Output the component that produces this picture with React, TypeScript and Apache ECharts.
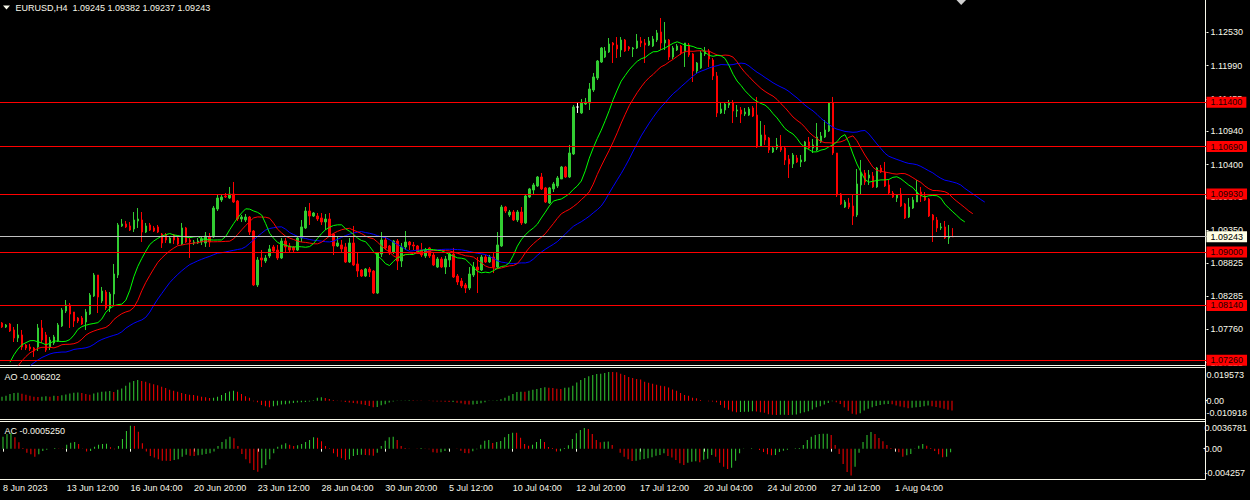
import React, { useEffect, useRef } from "react";
import * as echarts from "echarts";

// ---- candle data (EURUSD H4), oldest first ----
const opens = [
  1.07859, 1.07795, 1.07843, 1.07747, 1.07619, 1.07667, 1.07506, 1.07474, 1.07458, 1.07474,
  1.07779, 1.07667, 1.07474, 1.07538, 1.0757, 1.07811, 1.08051, 1.08148, 1.08035, 1.07939,
  1.07939, 1.07875, 1.08003, 1.08292, 1.08629, 1.08212, 1.08356, 1.081, 1.08324, 1.08629,
  1.09416, 1.09448, 1.09416, 1.09367, 1.09496, 1.09512, 1.09319, 1.09432, 1.09384, 1.094,
  1.09287, 1.09271, 1.09143, 1.09271, 1.09223, 1.09127, 1.09384, 1.09191, 1.09143, 1.09143,
  1.09159, 1.09143, 1.09239, 1.09239, 1.09688, 1.09833, 1.09897, 1.09865, 1.09929, 1.09817,
  1.09528, 1.09512, 1.0956, 1.09335, 1.08469, 1.08902, 1.08854, 1.08934, 1.09079, 1.0903,
  1.08902, 1.09175, 1.09095, 1.09079, 1.0903, 1.09223, 1.09384, 1.09656, 1.09576, 1.09576,
  1.09544, 1.0948, 1.09528, 1.09287, 1.09095, 1.09111, 1.09079, 1.08838, 1.09143, 1.08806,
  1.08709, 1.08613, 1.08725, 1.08693, 1.0834, 1.08966, 1.09191, 1.09095, 1.08998, 1.09175,
  1.08854, 1.09079, 1.09159, 1.09111, 1.09095, 1.0903, 1.08934, 1.09063, 1.0895, 1.08757,
  1.08886, 1.08757, 1.0887, 1.08966, 1.08613, 1.08533, 1.08469, 1.0842, 1.08629, 1.08757,
  1.08709, 1.08918, 1.08838, 1.08918, 1.08757, 1.09095, 1.0972, 1.09592, 1.0964, 1.09512,
  1.0964, 1.09464, 1.09881, 1.09993, 1.10058, 1.10202, 1.10026, 1.09785, 1.1001, 1.10058,
  1.1017, 1.10362, 1.10202, 1.10571, 1.11325, 1.11229, 1.11373, 1.11389, 1.11598, 1.1179,
  1.12047, 1.12127, 1.12208, 1.12352, 1.1232, 1.1224, 1.124, 1.12288, 1.12256, 1.12272,
  1.12384, 1.12352, 1.1232, 1.12304, 1.124, 1.12529, 1.12352, 1.124, 1.12127, 1.1224,
  1.12304, 1.12208, 1.1232, 1.12176, 1.11903, 1.11951, 1.12176, 1.12224, 1.12079, 1.11823,
  1.11229, 1.11277, 1.11357, 1.11389, 1.11261, 1.11277, 1.11213, 1.11196, 1.11309, 1.11196,
  1.10699, 1.10876, 1.10828, 1.10603, 1.10667, 1.10683, 1.10667, 1.10491, 1.10411, 1.10507,
  1.10443, 1.10459, 1.10764, 1.10667, 1.10635, 1.10764, 1.10844, 1.1094, 1.11389, 1.10587,
  1.09929, 1.0972, 1.09785, 1.09737, 1.09592, 1.10074, 1.10266, 1.10186, 1.10218, 1.10042,
  1.10346, 1.10282, 1.10074, 1.09945, 1.09865, 1.09929, 1.09769, 1.0956, 1.09704, 1.09801,
  1.09961, 1.09897, 1.09849, 1.09592, 1.09512, 1.09384, 1.094, 1.09223, 1.09245,
];
const highs = [
  1.07875, 1.07843, 1.07859, 1.07795, 1.07843, 1.07747, 1.07522, 1.07522, 1.07474, 1.07843,
  1.07907, 1.07715, 1.07635, 1.07667, 1.07859, 1.081, 1.08228, 1.0818, 1.08035, 1.07955,
  1.07971, 1.08083, 1.0834, 1.08661, 1.08629, 1.08437, 1.08388, 1.08356, 1.08806, 1.09464,
  1.09528, 1.09496, 1.0948, 1.0964, 1.09704, 1.0964, 1.09464, 1.09464, 1.09416, 1.09432,
  1.09303, 1.09303, 1.09239, 1.09287, 1.09255, 1.09464, 1.094, 1.09223, 1.09191, 1.09223,
  1.09239, 1.09319, 1.09303, 1.09737, 1.09913, 1.09913, 1.09945, 1.10042, 1.10122, 1.09833,
  1.09592, 1.09608, 1.09576, 1.09351, 1.08918, 1.0903, 1.0895, 1.09111, 1.09111, 1.09111,
  1.09223, 1.09223, 1.09143, 1.09095, 1.09239, 1.09512, 1.0972, 1.09785, 1.0964, 1.09624,
  1.09624, 1.09608, 1.09624, 1.09303, 1.09239, 1.09191, 1.09143, 1.09223, 1.09416, 1.08982,
  1.08725, 1.08741, 1.08757, 1.08709, 1.08998, 1.09319, 1.09239, 1.09111, 1.09191, 1.09207,
  1.09143, 1.09335, 1.09175, 1.09159, 1.09111, 1.09143, 1.09063, 1.09079, 1.08982, 1.08918,
  1.08918, 1.08934, 1.08998, 1.09063, 1.08645, 1.08581, 1.08501, 1.08757, 1.08838, 1.08918,
  1.0895, 1.0895, 1.0895, 1.08982, 1.09319, 1.09753, 1.09737, 1.09672, 1.09672, 1.09672,
  1.0972, 1.09929, 1.10026, 1.10106, 1.10218, 1.10266, 1.10042, 1.10042, 1.10122, 1.10218,
  1.10379, 1.10379, 1.10716, 1.11357, 1.11405, 1.11453, 1.1147, 1.1171, 1.11871, 1.12079,
  1.12288, 1.12288, 1.12432, 1.12368, 1.12448, 1.12448, 1.12416, 1.12304, 1.12288, 1.12496,
  1.12448, 1.12416, 1.12448, 1.12464, 1.12561, 1.12753, 1.12689, 1.12416, 1.12304, 1.12336,
  1.1232, 1.12352, 1.12352, 1.12192, 1.12047, 1.12224, 1.12288, 1.12256, 1.12111, 1.11887,
  1.11389, 1.11405, 1.11437, 1.11437, 1.11357, 1.11325, 1.11309, 1.11325, 1.11341, 1.11486,
  1.111, 1.11036, 1.10844, 1.10699, 1.10828, 1.10876, 1.10683, 1.10555, 1.10587, 1.10555,
  1.10555, 1.1078, 1.10844, 1.10812, 1.11068, 1.10924, 1.11116, 1.11405, 1.11486, 1.10587,
  1.09945, 1.09833, 1.09865, 1.09913, 1.1033, 1.10475, 1.10314, 1.10314, 1.10282, 1.10362,
  1.10395, 1.10443, 1.10154, 1.09977, 1.09929, 1.10026, 1.09785, 1.09865, 1.09881, 1.10154,
  1.10042, 1.09961, 1.09865, 1.09608, 1.0956, 1.09464, 1.09496, 1.09432, 1.09382,
];
const lows = [
  1.07779, 1.07779, 1.07715, 1.07554, 1.07554, 1.07426, 1.07426, 1.0741, 1.07314, 1.0741,
  1.07538, 1.07394, 1.07426, 1.07506, 1.07554, 1.07795, 1.08019, 1.07779, 1.07795, 1.07859,
  1.07827, 1.07747, 1.07987, 1.08276, 1.08019, 1.0818, 1.08067, 1.08035, 1.08148, 1.08581,
  1.094, 1.09384, 1.09335, 1.09319, 1.09384, 1.09159, 1.09303, 1.09335, 1.09319, 1.09303,
  1.09063, 1.09143, 1.09143, 1.09127, 1.09111, 1.09111, 1.09143, 1.08902, 1.09111, 1.09127,
  1.09111, 1.09079, 1.09079, 1.09223, 1.09656, 1.09801, 1.09865, 1.09849, 1.09785, 1.09496,
  1.0948, 1.0948, 1.09271, 1.08453, 1.08437, 1.08757, 1.08822, 1.08902, 1.08982, 1.0887,
  1.08886, 1.08998, 1.08998, 1.08998, 1.09014, 1.09159, 1.09367, 1.09432, 1.0956, 1.09496,
  1.09432, 1.09351, 1.09239, 1.0895, 1.09079, 1.08982, 1.08822, 1.08822, 1.08774, 1.08597,
  1.08597, 1.08597, 1.08597, 1.08324, 1.08324, 1.08918, 1.0903, 1.0895, 1.08966, 1.08709,
  1.08757, 1.0903, 1.0903, 1.0903, 1.08966, 1.08918, 1.08902, 1.08902, 1.08774, 1.08741,
  1.08741, 1.08645, 1.08757, 1.08581, 1.08469, 1.0842, 1.0834, 1.08388, 1.08597, 1.0834,
  1.08693, 1.08822, 1.08822, 1.08661, 1.08741, 1.09079, 1.09624, 1.0956, 1.09496, 1.0948,
  1.09432, 1.09448, 1.09865, 1.09913, 1.10042, 1.09993, 1.09785, 1.09769, 1.09961, 1.10026,
  1.1017, 1.10186, 1.10186, 1.10555, 1.11229, 1.11213, 1.11357, 1.11277, 1.11566, 1.11758,
  1.12031, 1.12111, 1.12192, 1.12031, 1.12111, 1.12127, 1.12208, 1.12224, 1.12127, 1.12256,
  1.12288, 1.12031, 1.12304, 1.12288, 1.12368, 1.1224, 1.1224, 1.12079, 1.12095, 1.12224,
  1.1216, 1.11967, 1.12127, 1.11726, 1.11871, 1.11935, 1.12143, 1.11967, 1.11758, 1.11164,
  1.11213, 1.11213, 1.11309, 1.11068, 1.11164, 1.11068, 1.1118, 1.1118, 1.11164, 1.10667,
  1.10683, 1.10716, 1.10587, 1.10587, 1.10635, 1.10603, 1.10395, 1.10186, 1.10346, 1.10427,
  1.10362, 1.10443, 1.10651, 1.10587, 1.10619, 1.10748, 1.10828, 1.10924, 1.10555, 1.09881,
  1.09753, 1.09704, 1.09688, 1.09432, 1.0956, 1.09913, 1.10074, 1.10074, 1.10026, 1.10026,
  1.10266, 1.10042, 1.09929, 1.09865, 1.09801, 1.0972, 1.09528, 1.09544, 1.09688, 1.09801,
  1.09801, 1.09817, 1.0956, 1.09159, 1.09319, 1.09351, 1.09207, 1.09127, 1.09237,
];
const closes = [
  1.07795, 1.07827, 1.07731, 1.07619, 1.07667, 1.07474, 1.07458, 1.07442, 1.0741, 1.07779,
  1.07586, 1.07426, 1.07586, 1.07635, 1.07827, 1.08067, 1.08148, 1.08003, 1.07891, 1.07891,
  1.07843, 1.08035, 1.08308, 1.08629, 1.08276, 1.08372, 1.081, 1.08324, 1.08645, 1.09432,
  1.09448, 1.094, 1.09351, 1.09512, 1.09528, 1.09319, 1.09416, 1.09351, 1.09335, 1.09319,
  1.09143, 1.09191, 1.09223, 1.09191, 1.09127, 1.09384, 1.09159, 1.09159, 1.09159, 1.09175,
  1.09207, 1.09255, 1.09159, 1.09704, 1.09865, 1.09881, 1.09881, 1.09929, 1.09801, 1.09528,
  1.0956, 1.0956, 1.09319, 1.08469, 1.0887, 1.0887, 1.08902, 1.09047, 1.09014, 1.08902,
  1.09175, 1.09079, 1.0903, 1.0903, 1.09223, 1.094, 1.09656, 1.09576, 1.09624, 1.09528,
  1.0948, 1.09528, 1.09255, 1.09095, 1.09143, 1.09047, 1.08838, 1.09143, 1.0879, 1.08693,
  1.08613, 1.08725, 1.08677, 1.0834, 1.08982, 1.09191, 1.09063, 1.08982, 1.09175, 1.08854,
  1.09079, 1.09159, 1.09111, 1.09095, 1.08982, 1.0895, 1.0903, 1.08934, 1.0879, 1.08886,
  1.08757, 1.08886, 1.08966, 1.08597, 1.08517, 1.08453, 1.0842, 1.08645, 1.08757, 1.08709,
  1.08918, 1.08838, 1.08918, 1.08757, 1.09111, 1.0972, 1.09656, 1.0964, 1.09512, 1.0964,
  1.09464, 1.09897, 1.1001, 1.10074, 1.10202, 1.1001, 1.09801, 1.10026, 1.1009, 1.10186,
  1.10362, 1.10202, 1.10587, 1.11325, 1.11325, 1.11389, 1.11405, 1.11614, 1.11807, 1.12063,
  1.12272, 1.12224, 1.12336, 1.1232, 1.12256, 1.124, 1.12224, 1.12256, 1.12272, 1.12384,
  1.12352, 1.1232, 1.12384, 1.12416, 1.12513, 1.12352, 1.124, 1.12127, 1.12272, 1.12304,
  1.12192, 1.12352, 1.1216, 1.11903, 1.12031, 1.12192, 1.12224, 1.12095, 1.11823, 1.11229,
  1.11293, 1.11373, 1.11389, 1.11261, 1.11277, 1.11213, 1.11245, 1.11293, 1.1118, 1.10683,
  1.10876, 1.10796, 1.10635, 1.10667, 1.10716, 1.10635, 1.10475, 1.10411, 1.10555, 1.10443,
  1.10475, 1.10764, 1.10667, 1.10716, 1.10844, 1.1086, 1.10956, 1.11389, 1.10587, 1.09913,
  1.09769, 1.09801, 1.0972, 1.09576, 1.1009, 1.10266, 1.10122, 1.10234, 1.10042, 1.10346,
  1.10282, 1.10058, 1.09945, 1.09881, 1.09913, 1.09737, 1.09544, 1.0972, 1.09833, 1.09961,
  1.09897, 1.09833, 1.09576, 1.09512, 1.09384, 1.094, 1.09223, 1.09239, 1.09243,
];

// ---- Awesome Oscillator (read from the sub-window) ----
const aoValues = [
  0.00248, 0.00311, 0.00414, 0.00476, 0.00497, 0.00435, 0.00373, 0.00311, 0.00248, 0.00228,
  0.00248, 0.00269, 0.00248, 0.00311, 0.0029, 0.00331, 0.00393, 0.00455, 0.00497, 0.00518,
  0.00476, 0.00414, 0.00373, 0.00455, 0.00518, 0.00559, 0.0058, 0.006, 0.00538, 0.00683,
  0.00766, 0.00932, 0.01139, 0.01242, 0.01304, 0.01242, 0.0118, 0.01097, 0.01035, 0.00973,
  0.00869, 0.00787, 0.00683, 0.00621, 0.00559, 0.00476, 0.00414, 0.00373, 0.00352, 0.00311,
  0.00248, 0.00207, 0.00166, 0.00186, 0.00248, 0.00352, 0.00476, 0.0058, 0.00621, 0.00559,
  0.00414, 0.00269, 0.00186, -0.00041, -0.00104, -0.00269, -0.00352, -0.00414, -0.00352, -0.00311,
  -0.00248, -0.00228, -0.00186, -0.00145, -0.00124, -0.00104, -0.00083, -0.00062, 0.00021, 0.00186,
  0.00207, 0.00166, 0.00104, 0.00041, -0.00021, -0.00041, -0.00083, -0.00124, -0.00145, -0.00186,
  -0.00228, -0.00269, -0.00331, -0.00414, -0.00393, -0.0029, -0.00228, -0.00124, -0.00062, -0.00021,
  0.0001, 0.00015, 0.0002, 0.00018, 0.00012, 0.00005, -0.00005, -0.0003, -0.00035, -0.0005,
  -0.0006, -0.0007, -0.0009, -0.0008, -0.0013, -0.0017, -0.0022, -0.0025, -0.0024, -0.0021,
  -0.00166, -0.00104, -0.0002, 0.00002, 0.0002, 0.00083, 0.00186, 0.00311, 0.00414, 0.00538,
  0.00559, 0.00555, 0.00621, 0.00683, 0.00725, 0.00787, 0.00849, 0.00807, 0.0079, 0.00745,
  0.00735, 0.00807, 0.00828, 0.00932, 0.01139, 0.01304, 0.01428, 0.01532, 0.01615, 0.01677,
  0.01697, 0.01739, 0.01801, 0.01795, 0.0178, 0.01697, 0.01615, 0.0149, 0.01428, 0.01366,
  0.01325, 0.0118, 0.01118, 0.01056, 0.00994, 0.00932, 0.00911, 0.00828, 0.00704, 0.00621,
  0.00476, 0.00352, 0.00311, 0.00186, 0.00145, 0.00041, -0.0001, -0.00041, -0.0005, -0.00104,
  -0.00269, -0.00455, -0.0058, -0.00683, -0.00725, -0.00715, -0.00705, -0.007, -0.00662, -0.00683,
  -0.00725, -0.00766, -0.00849, -0.0089, -0.00911, -0.0089, -0.0088, -0.00911, -0.0089, -0.0087,
  -0.00787, -0.00725, -0.00662, -0.00559, -0.00414, -0.00352, -0.00248, -0.00145, -0.00041, -0.00104,
  -0.00207, -0.00414, -0.00642, -0.00828, -0.00869, -0.00787, -0.00621, -0.00518, -0.00414, -0.00331,
  -0.00269, -0.00228, -0.00207, -0.00228, -0.00311, -0.00373, -0.00414, -0.00476, -0.00455, -0.00414,
  -0.00393, -0.00352, -0.00311, -0.00352, -0.00393, -0.00455, -0.00518, -0.0058, -0.006202,
];

// ---- Accelerator Oscillator (read from the sub-window) ----
const acValues = [
  0.0017, 0.00208, 0.00217, 0.0016, 0.0009, 0.00009, -0.00057, -0.0008, -0.00113, -0.0008,
  -0.00033, -0.00014, -0.00002, 0.00009, 0.00002, 0.00001, 0.00057, 0.00085, 0.00094, 0.00066,
  0.00002, -0.00042, -0.00033, 0.00028, 0.00057, 0.00066, 0.00071, 0.00019, -0.00009, 0.00038,
  0.00137, 0.0025, 0.00326, 0.00321, 0.00241, 0.00076, -0.00042, -0.00104, -0.00127, -0.00151,
  -0.0017, -0.00172, -0.00175, -0.0016, -0.00151, -0.00113, -0.00085, -0.00099, -0.00104, -0.00094,
  -0.00085, -0.00076, -0.00066, -0.00042, 0.00038, 0.00094, 0.00132, 0.0017, 0.00146, 0.00038,
  -0.00076, -0.00151, -0.00208, -0.00302, -0.00326, -0.00278, -0.00231, -0.00151, -0.00066, 0.00028,
  0.00057, 0.00076, 0.00057, 0.00038, 0.00047, 0.00066, 0.00094, 0.00123, 0.0016, 0.00156,
  0.00104, 0.00038, 0.00005, -0.00066, -0.00113, -0.00137, -0.0016, -0.00151, -0.00104, -0.0009,
  -0.00085, -0.0009, -0.00094, -0.00099, -0.00057, 0.00038, 0.00113, 0.0016, 0.0017, 0.00123,
  0.00038, 0.00009, 0.00002, -0.00002, -0.00005, 0.00009, -0.00005, -0.00009, -0.00052, -0.00057,
  -0.00052, -0.00033, -0.00009, 0.0, -0.00005, -0.00028, -0.00061, -0.00066, -0.00038, -0.00009,
  0.00057, 0.00113, 0.00123, 0.0008, 0.00094, 0.00109, 0.0016, 0.00208, 0.00227, 0.00224,
  0.00156, 0.00066, 0.00042, 0.00057, 0.00094, 0.00137, 0.00094, 0.00024, 0.00009, -0.00042,
  -0.00038, 0.00009, 0.00047, 0.00137, 0.00217, 0.00264, 0.00293, 0.00278, 0.00208, 0.00123,
  0.0009, 0.00099, 0.00101, 0.00052, -0.00002, -0.00057, -0.00113, -0.00151, -0.00175, -0.0017,
  -0.00156, -0.00146, -0.00137, -0.00123, -0.00099, -0.0009, -0.00066, -0.00104, -0.00127, -0.0016,
  -0.00208, -0.00231, -0.00198, -0.00184, -0.00179, -0.00194, -0.00156, -0.00142, -0.0009, -0.00113,
  -0.00198, -0.00255, -0.00288, -0.00269, -0.0017, -0.00066, -0.00005, 0.0, 0.00005, -0.00002,
  -0.00019, -0.00047, -0.0008, -0.00094, -0.0009, -0.00047, -0.00028, -0.00014, -0.00003, 0.00005,
  0.00009, 0.00052, 0.00123, 0.0017, 0.00194, 0.00208, 0.0021, 0.00212, 0.00194, 0.00052,
  -0.00076, -0.00217, -0.0033, -0.00382, -0.00255, -0.00057, 0.00094, 0.00194, 0.00236, 0.00208,
  0.00151, 0.00104, 0.00052, 0.00009, -0.00009, -0.00052, -0.00113, -0.00094, -0.00076, -0.00005,
  0.00042, 0.00066, 0.00042, 0.00009, -0.00033, -0.0008, -0.00123, -0.00113, -0.000525,
];

// ---- axes, levels, labels ----
const priceTicks = [1.1253, 1.1199, 1.11455, 1.1094, 1.104, 1.09875, 1.0935, 1.08825, 1.08285, 1.0776, 1.07225];
const levelLines = [1.114, 1.1069, 1.0993, 1.09, 1.0814, 1.0726];
const priceMin = 1.07185;
const priceMax = 1.13042;
const aoMin = -0.010918;
const aoMax = 0.019573;
const acMin = -0.004257;
const acMax = 0.0036781;
const timeTickBars = [0, 16, 32, 48, 64, 80, 96, 112, 128, 144, 160, 176, 192, 208, 224];
const timeTickLabels = [
  "8 Jun 2023", "13 Jun 12:00", "16 Jun 04:00", "20 Jun 20:00", "23 Jun 12:00",
  "28 Jun 04:00", "30 Jun 20:00", "5 Jul 12:00", "10 Jul 04:00", "12 Jul 20:00",
  "17 Jul 12:00", "20 Jul 04:00", "24 Jul 20:00", "27 Jul 12:00", "1 Aug 04:00",
];
// Alligator smoothed-average values just before the first visible bar
const jawSeed = 1.0717;
const teethSeed = 1.0717;
const lipsSeed = 1.0723;

const SLOTS = 302; // visible bar slots incl. empty right margin
const categories = Array.from({ length: SLOTS }, (_, i) => String(i));

const FG = "#f8f8ea";
const GREEN = "#32cd32";
const RED = "#ff0000";
const FONT = "Liberation Sans";

function smma(period: number, shift: number, seed: number) {
  const med = highs.map((h, i) => (h + lows[i]) / 2);
  const out: (number | null)[] = new Array(SLOTS).fill(null);
  let v = seed;
  out[shift - 1] = v;
  for (let t = 0; t < med.length; t++) {
    v = (v * (period - 1) + med[t]) / period;
    if (t + shift < SLOTS) out[t + shift] = v;
  }
  return out;
}

function histo(vals: number[]) {
  return vals.map((v, i) => ({
    value: v,
    itemStyle: { color: i === 0 || v >= vals[i - 1] ? GREEN : RED },
  }));
}

export default function App() {
  const ref = useRef<HTMLDivElement>(null);
  useEffect(() => {
    document.body.style.margin = "0";
    document.body.style.background = "#000";
    if (!ref.current) return;
    const chart = echarts.init(ref.current, undefined, { renderer: "svg" });
    const last = closes.length - 1;
    const tickSet = new Set(timeTickBars);
    const labelOf = (i: number) => timeTickLabels[timeTickBars.indexOf(i)] || "";

    const redLabel = {
      show: true,
      position: "end",
      distance: 0,
      formatter: (p: any) => Number(p.value).toFixed(5),
      backgroundColor: RED,
      color: "#1a0000",
      fontSize: 9,
      fontFamily: FONT,
      lineHeight: 9,
      padding: [1, 4, 1, 4],
    };

    const GL = -1.5;
    const GW = 1208;
    const grids = [
      { left: GL, top: 0, width: GW, height: 365 },
      { left: GL, top: 369.5, width: GW, height: 48.5 },
      { left: GL, top: 422.7, width: GW, height: 56 },
    ];

    const xAxisBase = (gi: number) => ({
      type: "category",
      gridIndex: gi,
      data: categories,
      boundaryGap: true,
      axisLine: { show: false },
      axisTick: { show: false },
      axisLabel: { show: false },
      splitLine: { show: false },
    });

    const subLabel = (max: number, min: number, pt: number, pb: number) => ({
      customValues: [max, 0, min],
      color: FG,
      fontSize: 9,
      fontFamily: FONT,
      margin: 1,
      formatter: (v: number) => {
        if (Math.abs(v - max) < 1e-9) return `{dn|${max}}`;
        if (Math.abs(v - min) < 1e-9) return `{up|${min}}`;
        return "0.00";
      },
      rich: {
        dn: { color: FG, fontSize: 9, fontFamily: FONT, padding: [pt, 0, 0, 0] },
        up: { color: FG, fontSize: 9, fontFamily: FONT, padding: [0, 0, pb, 0] },
      },
    });

    const option: any = {
      animation: false,
      backgroundColor: "#000000",
      textStyle: { fontFamily: FONT, fontSize: 9 },
      grid: grids,
      xAxis: [
        xAxisBase(0),
        xAxisBase(1),
        {
          ...xAxisBase(2),
          axisTick: {
            show: true,
            alignWithLabel: true,
            length: 3,
            interval: (i: number) => tickSet.has(i),
            lineStyle: { color: FG },
          },
          axisLabel: {
            show: true,
            interval: (i: number) => tickSet.has(i),
            formatter: (_v: string, i: number) => labelOf(i),
            align: "left",
            color: FG,
            fontSize: 9,
            fontFamily: FONT,
            margin: 5,
          },
        },
      ],
      yAxis: [
        {
          type: "value",
          gridIndex: 0,
          position: "right",
          min: priceMin,
          max: priceMax,
          axisLine: { show: false },
          splitLine: { show: false },
          axisTick: { show: true, length: 2, customValues: priceTicks, lineStyle: { color: FG } },
          axisLabel: {
            customValues: priceTicks,
            formatter: (v: number) => v.toFixed(5),
            color: FG,
            fontSize: 9,
            fontFamily: FONT,
            margin: 4,
          },
        },
        {
          type: "value",
          gridIndex: 1,
          position: "right",
          min: aoMin,
          max: aoMax,
          axisLine: { show: false },
          splitLine: { show: false },
          axisTick: { show: true, length: 2, customValues: [0], lineStyle: { color: FG } },
          axisLabel: subLabel(aoMax, aoMin, 11, 11),
        },
        {
          type: "value",
          gridIndex: 2,
          position: "right",
          min: acMin,
          max: acMax,
          axisLine: { show: false },
          splitLine: { show: false },
          axisTick: { show: true, length: 2, customValues: [0], lineStyle: { color: FG } },
          axisLabel: subLabel(acMax, acMin, 10, 12),
        },
      ],
      series: [
        {
          type: "candlestick",
          xAxisIndex: 0,
          yAxisIndex: 0,
          barWidth: 2,
          data: opens.map((o, i) => [o, closes[i], lows[i], highs[i]]),
          itemStyle: {
            color: GREEN,
            color0: RED,
            borderColor: GREEN,
            borderColor0: RED,
            borderColorDoji: "#ffffff",
            borderWidth: 1,
          },
          markLine: {
            silent: true,
            symbol: ["none", "none"],
            animation: false,
            precision: 5,
            data: [
              ...levelLines.map((v) => ({
                yAxis: v,
                lineStyle: { color: RED, width: 1, type: "solid" },
                label: redLabel,
              })),
              {
                yAxis: closes[last],
                lineStyle: { color: "#c0c0c0", width: 1, type: "solid" },
                label: { ...redLabel, backgroundColor: "#ffffe4", color: "#000000" },
              },
            ],
          },
        },
        {
          type: "line",
          name: "Jaw",
          xAxisIndex: 0,
          yAxisIndex: 0,
          data: smma(13, 8, jawSeed),
          showSymbol: false,
          lineStyle: { color: "#0000ff", width: 1 },
        },
        {
          type: "line",
          name: "Teeth",
          xAxisIndex: 0,
          yAxisIndex: 0,
          data: smma(8, 5, teethSeed),
          showSymbol: false,
          lineStyle: { color: "#ff0000", width: 1 },
        },
        {
          type: "line",
          name: "Lips",
          xAxisIndex: 0,
          yAxisIndex: 0,
          data: smma(5, 3, lipsSeed),
          showSymbol: false,
          lineStyle: { color: "#00ff00", width: 1 },
        },
        {
          type: "bar",
          xAxisIndex: 1,
          yAxisIndex: 1,
          barWidth: 1,
          data: histo(aoValues),
        },
        {
          type: "bar",
          xAxisIndex: 2,
          yAxisIndex: 2,
          barWidth: 1,
          data: histo(acValues),
        },
      ],
      graphic: [
        { type: "line", shape: { x1: 1205.5, y1: 0, x2: 1205.5, y2: 479.5 }, style: { stroke: FG, lineWidth: 1 } },
        { type: "line", shape: { x1: 0, y1: 365.5, x2: 1205.5, y2: 365.5 }, style: { stroke: FG, lineWidth: 1 } },
        { type: "line", shape: { x1: 0, y1: 367.5, x2: 1205.5, y2: 367.5 }, style: { stroke: FG, lineWidth: 1 } },
        { type: "line", shape: { x1: 0, y1: 419.5, x2: 1205.5, y2: 419.5 }, style: { stroke: FG, lineWidth: 1 } },
        { type: "line", shape: { x1: 0, y1: 421.5, x2: 1205.5, y2: 421.5 }, style: { stroke: FG, lineWidth: 1 } },
        { type: "line", shape: { x1: 0, y1: 479.5, x2: 1205.5, y2: 479.5 }, style: { stroke: FG, lineWidth: 1 } },
        { type: "polygon", shape: { points: [[3, 5.5], [10, 5.5], [6.5, 9.5]] }, style: { fill: FG } },
        { type: "polygon", shape: { points: [[956.5, 0], [966, 0], [961.2, 5]] }, style: { fill: "#d0d0d0" } },
        {
          type: "text",
          style: {
            x: 15.5,
            y: 7.5,
            text: `EURUSD,H4  ${opens[last].toFixed(5)} ${highs[last].toFixed(5)} ${lows[last].toFixed(5)} ${closes[last].toFixed(5)}`,
            fill: FG,
            font: `9px "${FONT}"`,
            verticalAlign: "middle",
          },
        },
        {
          type: "text",
          style: {
            x: 4.5,
            y: 377,
            text: `AO ${aoValues[aoValues.length - 1].toFixed(6)}`,
            fill: FG,
            font: `9px "${FONT}"`,
            verticalAlign: "middle",
          },
        },
        {
          type: "text",
          style: {
            x: 4.5,
            y: 431,
            text: `AC ${acValues[acValues.length - 1].toFixed(7)}`,
            fill: FG,
            font: `9px "${FONT}"`,
            verticalAlign: "middle",
          },
        },
      ],
    };
    chart.setOption(option);
    return () => chart.dispose();
  }, []);
  return <div ref={ref} style={{ width: 1250, height: 500, background: "#000" }} />;
}
